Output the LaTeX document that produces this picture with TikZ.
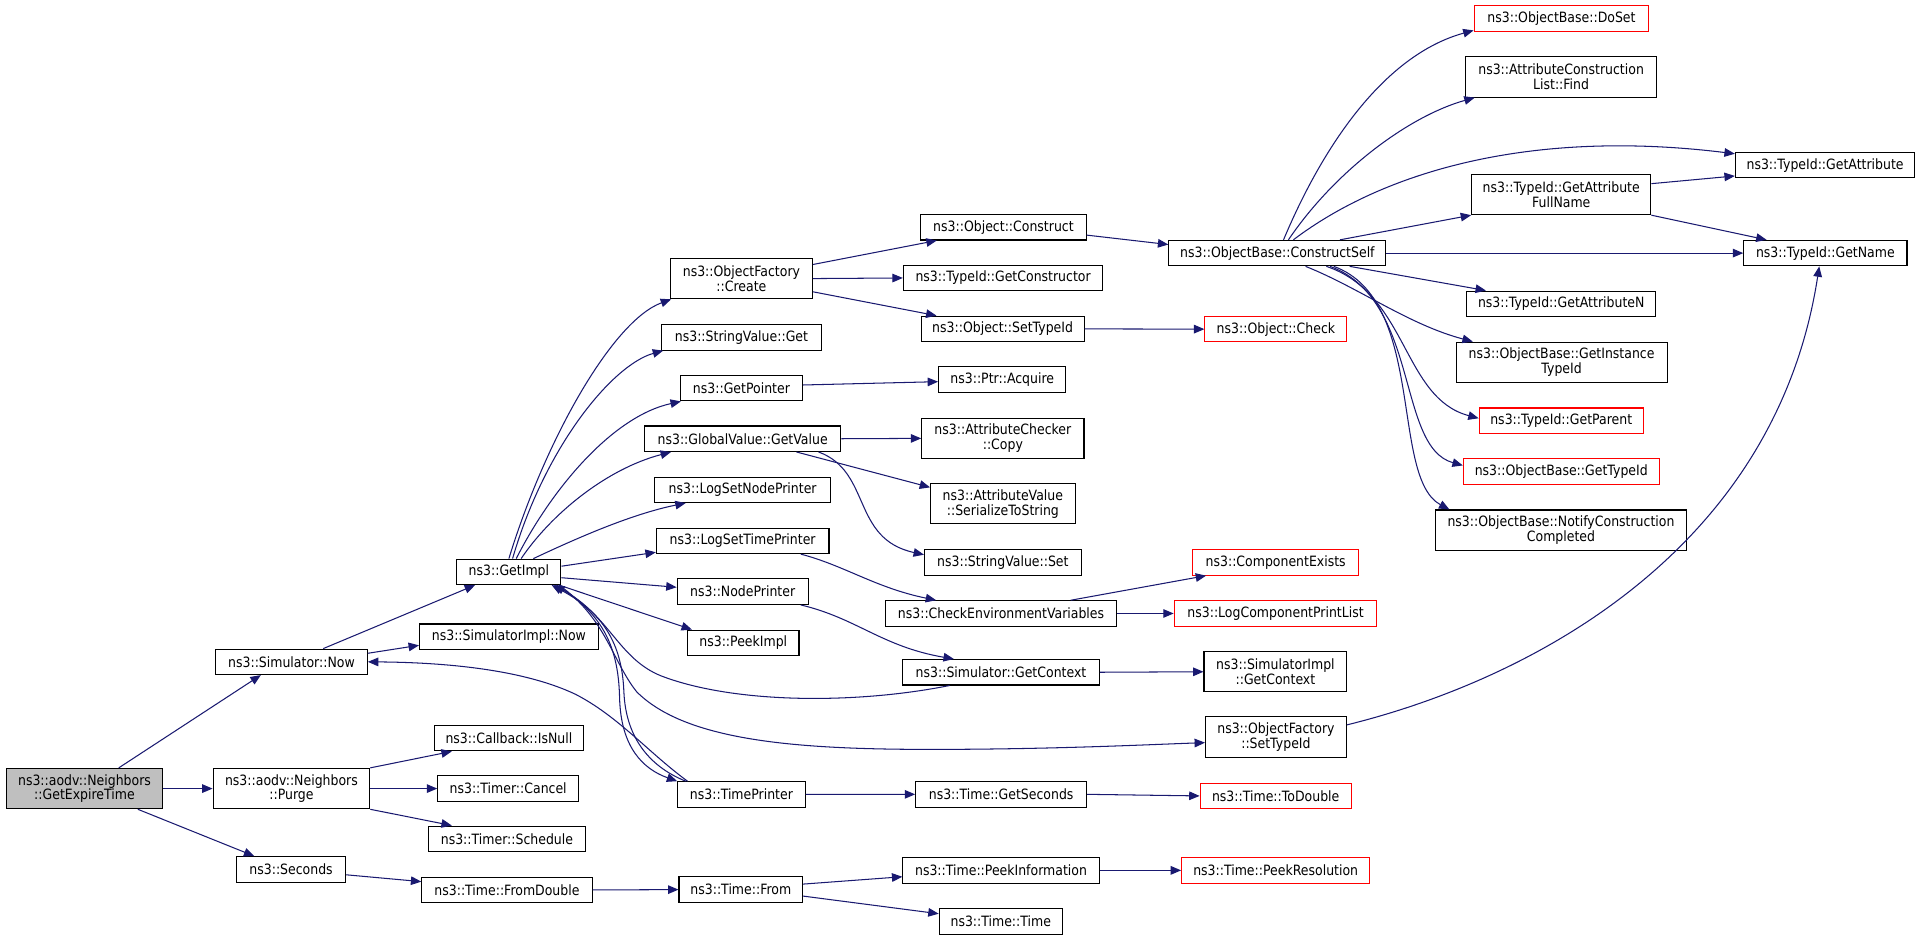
\documentclass[tikz,border=0pt]{standalone}
\usepackage{fontspec}
\setmainfont{DejaVu Sans}[FakeStretch=0.88]
\usetikzlibrary{arrows.meta}
\definecolor{edgeblue}{HTML}{191970}
\definecolor{nodegray}{HTML}{BFBFBF}
\definecolor{nodered}{HTML}{FF0000}
\newcommand{\nfnt}{\fontsize{11.6pt}{12.2pt}\selectfont}
\begin{document}
\begin{tikzpicture}[x=1pt,y=-1pt,
  nd/.style={draw=black, line width=0.85pt, fill=white, inner sep=0pt, minimum height=20.8pt, align=center, font=\nfnt},
  nd2/.style={nd, minimum height=33pt},
  rnd/.style={nd, draw=nodered},
  ed/.style={draw=edgeblue, line width=0.85pt, -{Triangle[length=8.5pt,width=7pt]}}]
\fill[white] (0,0) rectangle (1568,768);
\useasboundingbox (0,0) rectangle (1568,768);
% column 1-3
\node[nd2, fill=nodegray, minimum width=128pt] (getexp) at (69,644) {ns3::aodv::Neighbors\\::GetExpireTime};
\node[nd, minimum width=124pt] (simnow) at (238,540.5) {ns3::Simulator::Now};
\node[nd2, minimum width=128pt] (purge) at (238,644) {ns3::aodv::Neighbors\\::Purge};
\node[nd, minimum width=89pt] (seconds) at (237.7,710) {ns3::Seconds};
\node[nd, minimum width=85pt] (getimpl) at (415.6,467) {ns3::GetImpl};
\node[nd, minimum width=146pt] (simimplnow) at (415.6,520) {ns3::SimulatorImpl::Now};
\node[nd, minimum width=122pt] (isnull) at (415.6,602.8) {ns3::Callback::IsNull};
\node[nd, minimum width=115pt] (cancel) at (415,644) {ns3::Timer::Cancel};
\node[nd, minimum width=128pt] (schedule) at (414,685) {ns3::Timer::Schedule};
\node[nd, minimum width=139pt] (fromdouble) at (414,726.8) {ns3::Time::FromDouble};
% column 4
\node[nd2, minimum width=116pt] (create) at (605.5,227.5) {ns3::ObjectFactory\\::Create};
\node[nd, minimum width=130pt] (svget) at (605.5,275.5) {ns3::StringValue::Get};
\node[nd, minimum width=100pt] (getpointer) at (605.5,317) {ns3::GetPointer};
\node[nd, minimum width=160.5pt] (getvalue) at (606.5,358.3) {ns3::GlobalValue::GetValue};
\node[nd, minimum width=144pt] (lognode) at (606.5,400) {ns3::LogSetNodePrinter};
\node[nd, minimum width=141pt] (logtime) at (606.5,441.7) {ns3::LogSetTimePrinter};
\node[nd, minimum width=107pt] (nodeprinter) at (606.5,483.2) {ns3::NodePrinter};
\node[nd, minimum width=91pt] (peekimpl) at (607,525) {ns3::PeekImpl};
\node[nd, minimum width=104pt] (timeprinter) at (605.5,648.8) {ns3::TimePrinter};
\node[nd, minimum width=101pt] (timefrom) at (605,726.5) {ns3::Time::From};
% column 5
\node[nd, minimum width=135pt] (construct) at (819.5,185.6) {ns3::Object::Construct};
\node[nd, minimum width=163pt] (getconstructor) at (819.2,227) {ns3::TypeId::GetConstructor};
\node[nd, minimum width=133pt] (settypeid) at (818.8,268.6) {ns3::Object::SetTypeId};
\node[nd, minimum width=104pt] (acquire) at (818.5,310) {ns3::Ptr::Acquire};
\node[nd2, minimum width=132.5pt] (accopy) at (819,358) {ns3::AttributeChecker\\::Copy};
\node[nd2, minimum width=118pt] (serialize) at (819,411.3) {ns3::AttributeValue\\::SerializeToString};
\node[nd, minimum width=128pt] (svset) at (819,459.3) {ns3::StringValue::Set};
\node[nd, minimum width=188.5pt] (checkenv) at (817.5,501) {ns3::CheckEnvironmentVariables};
\node[nd, minimum width=160.5pt] (getcontext) at (817.5,549) {ns3::Simulator::GetContext};
\node[nd, minimum width=139.6pt] (getseconds) at (817.6,648.7) {ns3::Time::GetSeconds};
\node[nd, minimum width=160.3pt] (peekinfo) at (817.5,710.8) {ns3::Time::PeekInformation};
\node[nd, minimum width=100.6pt] (timetime) at (817.3,752.5) {ns3::Time::Time};
% column 6
\node[nd, minimum width=177.3pt] (constructself) at (1043.2,206.7) {ns3::ObjectBase::ConstructSelf};
\node[rnd, minimum width=116pt] (objcheck) at (1042,268.8) {ns3::Object::Check};
\node[rnd, minimum width=135.5pt] (compexists) at (1041.8,459.3) {ns3::ComponentExists};
\node[rnd, minimum width=165.6pt] (logcomp) at (1041.7,501) {ns3::LogComponentPrintList};
\node[nd2, minimum width=116.7pt] (simimplctx) at (1041.6,548.6) {ns3::SimulatorImpl\\::GetContext};
\node[nd2, minimum width=115pt] (ofsettypeid) at (1042,602) {ns3::ObjectFactory\\::SetTypeId};
\node[rnd, minimum width=123.4pt] (todouble) at (1041.8,650) {ns3::Time::ToDouble};
\node[rnd, minimum width=153.6pt] (peekres) at (1041.8,710.8) {ns3::Time::PeekResolution};
% column 7
\node[rnd, minimum width=142.7pt] (doset) at (1275.2,15) {ns3::ObjectBase::DoSet};
\node[nd2, minimum width=156.3pt] (find) at (1274.9,62.8) {ns3::AttributeConstruction\\List::Find};
\node[nd2, minimum width=146.3pt] (fullname) at (1275,158.8) {ns3::TypeId::GetAttribute\\FullName};
\node[nd, minimum width=154.7pt] (getattrn) at (1275,248.1) {ns3::TypeId::GetAttributeN};
\node[nd2, minimum width=172.2pt] (instancetypeid) at (1275.3,295.9) {ns3::ObjectBase::GetInstance\\TypeId};
\node[rnd, minimum width=134pt] (getparent) at (1275,343.6) {ns3::TypeId::GetParent};
\node[rnd, minimum width=159.9pt] (gettypeid) at (1275,385.1) {ns3::ObjectBase::GetTypeId};
\node[nd2, minimum width=205.4pt] (notify) at (1274.8,433) {ns3::ObjectBase::NotifyConstruction\\Completed};
% column 8
\node[nd, minimum width=146.6pt] (getattribute) at (1490.5,134.9) {ns3::TypeId::GetAttribute};
\node[nd, minimum width=133.3pt] (getname) at (1490.7,206.7) {ns3::TypeId::GetName};
% edges, left part
\draw[ed] ([xshift=28pt]getexp.north) -- ([xshift=-25pt]simnow.south);
\draw[ed] (getexp.east) -- (purge.west);
\draw[ed] ([xshift=43.6pt]getexp.south) -- ([xshift=-30pt]seconds.north);
\draw[ed] ([xshift=26pt]simnow.north) -- ([xshift=-27.6pt]getimpl.south);
\draw[ed] ([yshift=7pt]simnow.east) -- ([yshift=-7pt]simimplnow.west);
\draw[ed] (purge.north east) -- ([xshift=-46.6pt]isnull.south);
\draw[ed] (purge.east) -- (cancel.west);
\draw[ed] (purge.south east) -- ([xshift=-45pt]schedule.north);
\draw[ed] ([yshift=-4.4pt]seconds.east) -- ([yshift=6.8pt]fromdouble.west);
\draw[ed] (fromdouble.east) -- (timefrom.west);
\draw[ed] ([yshift=4.5pt]timefrom.east) -- ([yshift=-5.2pt]peekinfo.west);
\draw[ed] ([yshift=-5.3pt]timefrom.east) -- ([yshift=6.3pt]timetime.west);
\draw[ed] (peekinfo.east) -- (peekres.west);
% GetImpl
\draw[ed] (getimpl.north) .. controls (445,360) and (500,262) .. ([xshift=1pt]create.south west);
\draw[ed] ([xshift=3pt]getimpl.north) .. controls (445,365) and (500,298) .. ([xshift=1.5pt]svget.south west);
\draw[ed] ([xshift=6pt]getimpl.north) .. controls (450,400) and (500,340) .. ([xshift=1pt]getpointer.south west);
\draw[ed] ([xshift=10pt]getimpl.north) .. controls (450,420) and (495,383) .. ([xshift=-58.5pt]getvalue.south);
\draw[ed] ([xshift=20pt]getimpl.north) .. controls (470,440) and (515,420) .. ([xshift=-46.5pt]lognode.south);
\draw[ed] ([yshift=4.6pt]getimpl.east) -- ([yshift=1.5pt]logtime.south west);
\draw[ed] ([yshift=-4.8pt]getimpl.east) -- ([yshift=3.6pt]nodeprinter.west);
\draw[ed] ([xshift=-2pt]getimpl.south east) -- ([xshift=4pt]peekimpl.north west);
\draw[ed] ([xshift=-4pt]getimpl.south east) .. controls (490,500) and (505,525) .. (506,570) .. controls (507,610) and (525,628) .. (timeprinter.north west);
\draw[ed] ([xshift=-45.5pt]timeprinter.north) .. controls (528,625) and (511,600) .. (509.5,565) .. controls (508,525) and (492,500) .. ([xshift=-8pt]getimpl.south east);
\draw[ed] ([xshift=-42pt]getcontext.south) .. controls (700,575) and (600,575) .. (540,552) .. controls (505,538) and (498,503) .. ([xshift=-6pt]getimpl.south east);
\draw[ed] ([xshift=-2pt]getimpl.south east) .. controls (495,505) and (500,540) .. (520,565) .. controls (560,605) and (650,612) .. (760,612) .. controls (860,612) and (940,608) .. ([yshift=-4.5pt]ofsettypeid.west);
\draw[ed] ([xshift=-44pt]timeprinter.north) .. controls (530,615) and (505,585) .. (470,567) .. controls (430,548) and (370,541) .. (simnow.east);
% column 4 edges
\draw[ed] ([yshift=11.5pt]create.east) -- ([xshift=-54.5pt]construct.south);
\draw[ed] (create.east) -- (getconstructor.west);
\draw[ed] ([yshift=-10.8pt]create.east) -- ([xshift=-54pt]settypeid.north);
\draw[ed] ([yshift=-6.4pt]construct.east) -- ([yshift=7pt]constructself.west);
\draw[ed] (settypeid.east) -- (objcheck.west);
\draw[ed] ([yshift=2.6pt]getpointer.east) -- ([yshift=-1.7pt]acquire.west);
\draw[ed] (getvalue.east) -- (accopy.west);
\draw[ed] ([xshift=44pt]getvalue.south) -- ([yshift=13.3pt]serialize.west);
\draw[ed] ([xshift=62pt]getvalue.south) .. controls (712,385) and (695,440) .. ([yshift=6.3pt]svset.west);
\draw[ed] ([xshift=47.5pt]logtime.south) .. controls (690,462) and (715,480) .. ([xshift=-53pt]checkenv.north);
\draw[ed] ([xshift=47.5pt]nodeprinter.south) .. controls (700,505) and (720,528) .. ([xshift=-38.5pt]getcontext.north);
\draw[ed] ([xshift=57pt]checkenv.north) -- ([xshift=-56.8pt]compexists.south);
\draw[ed] (checkenv.east) -- (logcomp.west);
\draw[ed] (getcontext.east) -- (simimplctx.west);
\draw[ed] (timeprinter.east) -- (getseconds.west);
\draw[ed] (getseconds.east) -- (todouble.west);
\draw[ed] ([yshift=10pt]ofsettypeid.east) .. controls (1250,555) and (1450,450) .. ([xshift=-5pt]getname.south);
% ConstructSelf edges
\draw[ed] ([xshift=5pt]constructself.north) .. controls (1080,120) and (1130,45) .. ([yshift=1pt]doset.south west);
\draw[ed] ([xshift=9pt]constructself.north) .. controls (1090,140) and (1150,95) .. ([xshift=8pt]find.south west);
\draw[ed] ([xshift=13pt]constructself.north) .. controls (1130,140) and (1250,105) .. ([yshift=-1.5pt]getattribute.north west);
\draw[ed] ([xshift=51pt]constructself.north) -- (fullname.south west);
\draw[ed] (constructself.east) -- (getname.west);
\draw[ed] ([xshift=59pt]constructself.south) -- ([xshift=-61.5pt]getattrn.north);
\draw[ed] ([xshift=23pt]constructself.south) .. controls (1110,235) and (1150,265) .. ([xshift=14pt]instancetypeid.north west);
\draw[ed] ([xshift=40pt]constructself.south) .. controls (1150,240) and (1145,325) .. ([yshift=2pt]getparent.west);
\draw[ed] ([xshift=43pt]constructself.south) .. controls (1160,245) and (1140,365) .. ([yshift=5pt]gettypeid.west);
\draw[ed] ([xshift=46pt]constructself.south) .. controls (1165,245) and (1135,390) .. ([xshift=12pt]notify.north west);
\draw[ed] ([yshift=8.8pt]fullname.east) -- ([yshift=-8.8pt]getattribute.west);
\draw[ed] (fullname.south east) -- ([xshift=-48pt]getname.north);
\end{tikzpicture}
\end{document}
